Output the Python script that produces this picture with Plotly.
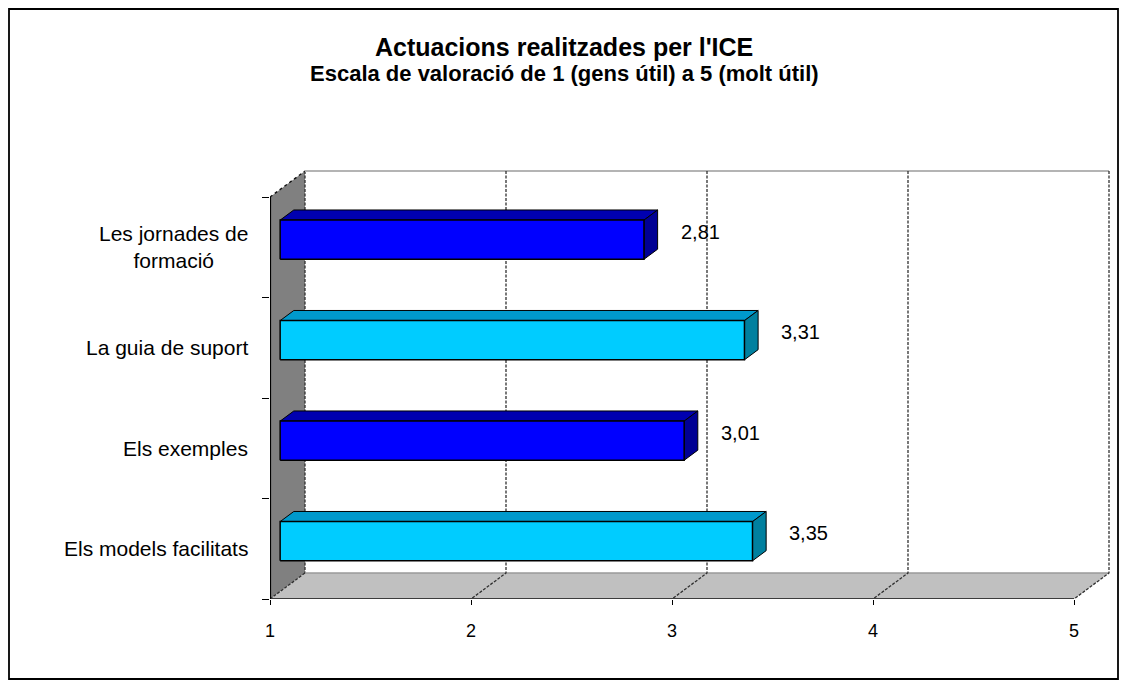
import plotly.graph_objects as go

# ---------------- data ----------------
categories = ["Els models facilitats", "Els exemples", "La guia de suport", "Les jornades de<br>formació"]
values = [3.35, 3.01, 3.31, 2.81]
bar_colors = ["cyan", "blue", "cyan", "blue"]
x_ticks = [1, 2, 3, 4, 5]
x_tick_labels = ["1", "2", "3", "4", "5"]
title = "Actuacions realitzades per l'ICE"
subtitle = "Escala de valoració de 1 (gens útil) a 5 (molt útil)"

# ---------------- geometry / style ----------------
W, H = 1112, 672
ML, MR, MT, MB = 262, 2, 152, 81
PX_PER_X = 201.0
PX_PER_Y = 100.5
DEPTH_PX = (35, 26)
DX = DEPTH_PX[0] / PX_PER_X
DY = DEPTH_PX[1] / PX_PER_Y
XMIN = x_ticks[0]
XMAX_V = x_ticks[-1]
YMIN = -0.5
YMAX_C = len(categories) - 0.5
PW, PH = W - ML - MR, H - MT - MB
x_range = [XMIN, XMIN + PW / PX_PER_X]
y_range = [YMIN, YMIN + PH / PX_PER_Y]

palette = {
    "blue": {"front": "#0000FF", "top": "#0000B0", "side": "#000094"},
    "cyan": {"front": "#00CCFF", "top": "#0099CC", "side": "#00809F"},
}
D0, D1 = 0.29, 0.68     # bar front / back depth fraction
HALF = 0.195            # half bar thickness in category units
FONT = "Liberation Sans, Arial, sans-serif"
GRID_DASH = "3px,1.5px"


def proj(v, c, d):
    return v + d * DX, c + d * DY


def poly(points, fill, line_color="black", width=1, dash="solid"):
    xs, ys = [], []
    for p in points + [points[0]]:
        x, y = proj(*p)
        xs.append(x)
        ys.append(y)
    return go.Scatter(x=xs, y=ys, mode="lines", fill="toself", fillcolor=fill,
                      line=dict(color=line_color, width=width, dash=dash),
                      hoverinfo="skip", showlegend=False)


def seg(points, color, width=1, dash="solid"):
    xs, ys = [], []
    for p in points:
        x, y = proj(*p)
        xs.append(x)
        ys.append(y)
    return go.Scatter(x=xs, y=ys, mode="lines",
                      line=dict(color=color, width=width, dash=dash),
                      hoverinfo="skip", showlegend=False)


fig = go.Figure()

# left wall
fig.add_trace(poly([(XMIN, YMIN, 0), (XMIN, YMAX_C, 0), (XMIN, YMAX_C, 1), (XMIN, YMIN, 1)],
                   "#808080", line_color="rgba(0,0,0,0)", width=0))
fig.add_trace(seg([(XMIN, YMAX_C, 0), (XMIN, YMAX_C, 1)], "#101010", 1.4, "dot"))
fig.add_trace(seg([(XMIN, YMAX_C, 1), (XMIN, YMIN, 1)], "#303030", 1.3, GRID_DASH))
# floor
fig.add_trace(poly([(XMIN, YMIN, 0), (XMAX_V, YMIN, 0), (XMAX_V, YMIN, 1), (XMIN, YMIN, 1)],
                   "#C0C0C0", line_color="rgba(0,0,0,0)", width=0))
fig.add_trace(seg([(XMIN, YMIN, 1), (XMAX_V, YMIN, 1)], "#9A9A9A", 1.5))
fig.add_trace(seg([(XMIN, YMIN, 0), (XMIN, YMIN, 1)], "#303030", 1.3, GRID_DASH))
# back wall top edge
fig.add_trace(seg([(XMIN, YMAX_C, 1), (XMAX_V, YMAX_C, 1)], "#B4B4B4", 2))
# gridlines (back wall + floor)
for v in x_ticks[1:]:
    fig.add_trace(seg([(v, YMAX_C, 1), (v, YMIN, 1), (v, YMIN, 0)], "#303030", 1.3, GRID_DASH))
# floor front edge and wall front edge
fig.add_trace(seg([(XMIN, YMIN, 0), (XMAX_V, YMIN, 0)], "#3C3C3C", 2.2))
fig.add_trace(seg([(XMIN, YMIN, 0), (XMIN, YMAX_C, 0)], "black", 2.2))

# bars
for c, (v, col) in enumerate(zip(values, bar_colors)):
    pc = palette[col]
    lo, hi = c - HALF, c + HALF
    fig.add_trace(poly([(XMIN, hi, D0), (v, hi, D0), (v, hi, D1), (XMIN, hi, D1)], pc["top"], width=1))
    fig.add_trace(poly([(v, lo, D0), (v, hi, D0), (v, hi, D1), (v, lo, D1)], pc["side"], width=1))
    fig.add_trace(poly([(XMIN, lo, D0), (v, lo, D0), (v, hi, D0), (XMIN, hi, D0)], pc["front"], width=1.5))

annotations = []
# value labels
for c, v in enumerate(values):
    lx, ly = proj(v, c, 0.6)
    annotations.append(dict(x=lx, y=ly, xref="x", yref="y", text=f"{v:.2f}".replace(".", ","),
                            showarrow=False, xanchor="left", yanchor="middle", xshift=24,
                            font=dict(family=FONT, size=20, color="black")))
# category labels
for c, name in enumerate(categories):
    annotations.append(dict(x=XMIN, y=c, xref="x", yref="y", text=name, showarrow=False,
                            xanchor="right", yanchor="middle", align="center", xshift=-20,
                            font=dict(family=FONT, size=21, color="black")))
# titles
annotations.append(dict(x=(556 - ML) / PW, y=1 + (MT - 39) / PH,
                        xref="paper", yref="paper", text=f"<b>{title}</b>", showarrow=False,
                        xanchor="center", yanchor="middle",
                        font=dict(family=FONT, size=25, color="black")))
annotations.append(dict(x=(556 - ML) / PW, y=1 + (MT - 65) / PH,
                        xref="paper", yref="paper", text=f"<b>{subtitle}</b>", showarrow=False,
                        xanchor="center", yanchor="middle",
                        font=dict(family=FONT, size=22, color="black")))

border = dict(type="rect", xref="paper", yref="paper", layer="above",
              x0=(1 - ML) / PW, x1=(1110 - ML) / PW,
              y0=((H - 671) - MB) / PH, y1=((H - 1) - MB) / PH,
              line=dict(color="black", width=1.8), fillcolor="rgba(0,0,0,0)")

fig.update_layout(
    width=W, height=H,
    margin=dict(l=ML, r=MR, t=MT, b=MB, autoexpand=False),
    paper_bgcolor="white", plot_bgcolor="white",
    showlegend=False,
    annotations=annotations,
    shapes=[border],
    xaxis=dict(range=x_range, tickvals=x_ticks, ticktext=x_tick_labels, ticks="outside",
               ticklen=5, tickcolor="black", tickwidth=1, showgrid=False, zeroline=False,
               showline=False, ticklabelstandoff=10,
               tickfont=dict(family=FONT, size=18, color="black"), fixedrange=True),
    yaxis=dict(range=y_range, tickvals=[c - 0.5 for c in range(len(categories) + 1)],
               ticks="outside", ticklen=7, tickcolor="black", tickwidth=1,
               showticklabels=False, showgrid=False, zeroline=False, showline=False,
               fixedrange=True),
)

fig.write_html("out.html")
